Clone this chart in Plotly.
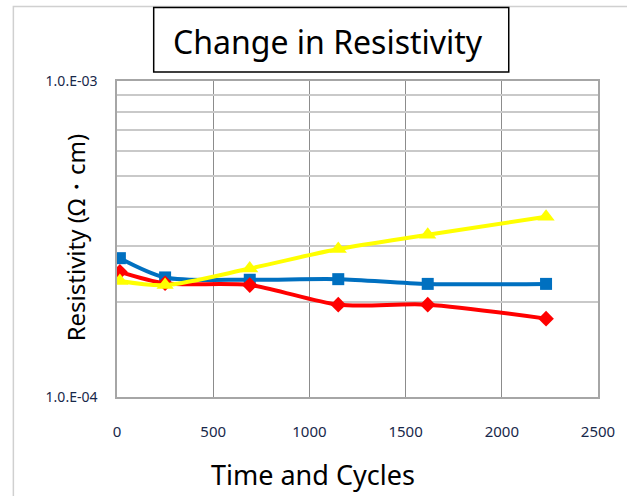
import plotly.graph_objects as go

# ---- data ----
cycles = [15, 250, 690, 1150, 1615, 2230]
blue_vals = [2.75e-4, 2.39e-4, 2.35e-4, 2.36e-4, 2.28e-4, 2.28e-4]
red_vals = [2.49e-4, 2.29e-4, 2.26e-4, 1.96e-4, 1.96e-4, 1.77e-4]
yellow_vals = [2.33e-4, 2.26e-4, 2.55e-4, 2.94e-4, 3.26e-4, 3.72e-4]

y_tickvals = [1e-4, 2e-4, 3e-4, 4e-4, 5e-4, 6e-4, 7e-4, 8e-4, 9e-4, 1e-3]
y_ticktext = ["1.0.E-04", "", "", "", "", "", "", "", "", "1.0.E-03"]
x_tickvals = [0, 500, 1000, 1500, 2000, 2500]

title_text = "Change in Resistivity"
x_title = "Time and Cycles"
y_title = "Resistivity (Ω・cm)"

FONT = "Noto Sans"
TICK_COLOR = "#17284a"

fig = go.Figure()
fig.add_trace(go.Scatter(
    x=cycles, y=blue_vals, mode="lines+markers",
    line=dict(color="#0070C0", width=4, shape="spline", smoothing=0.8),
    marker=dict(symbol="square", size=12, color="#0070C0"),
    hoverinfo="skip"))
fig.add_trace(go.Scatter(
    x=cycles, y=red_vals, mode="lines+markers",
    line=dict(color="#FF0000", width=4, shape="spline", smoothing=0.8),
    marker=dict(symbol="diamond", size=12, color="#FF0000"),
    hoverinfo="skip"))
fig.add_trace(go.Scatter(
    x=cycles, y=yellow_vals, mode="lines+markers",
    line=dict(color="#FFFF00", width=4, shape="spline", smoothing=0.8),
    marker=dict(symbol="triangle-up", size=15, color="#FFFF00"),
    hoverinfo="skip"))

L, R, T, B = 117, 25, 81, 99
W, H = 627, 496
pw, ph = W - L - R, H - T - B

def px(xp):
    return (xp - L) / pw

def py(yp):
    return (H - B - yp) / ph

fig.update_layout(
    width=W, height=H,
    margin=dict(l=L, r=R, t=T, b=B),
    paper_bgcolor="white", plot_bgcolor="white",
    showlegend=False,
    font=dict(family=FONT, color="black"),
    xaxis=dict(
        range=[0, 2500], tickvals=x_tickvals,
        showgrid=True, gridcolor="#8c8c8c", gridwidth=1,
        showline=True, linecolor="#a6a6a6", linewidth=1.5, mirror=True,
        zeroline=False,
        ticks="outside", ticklen=20, tickcolor="rgba(0,0,0,0)",
        tickfont=dict(family=FONT, size=15, color=TICK_COLOR),
    ),
    yaxis=dict(
        type="log", range=[-4, -3],
        tickvals=y_tickvals, ticktext=y_ticktext,
        showgrid=True, gridcolor="#c9c9c9", gridwidth=2,
        showline=True, linecolor="#a6a6a6", linewidth=1.5, mirror=True,
        zeroline=False,
        ticks="outside", ticklen=15, tickcolor="rgba(0,0,0,0)",
        tickfont=dict(family=FONT, size=14, color=TICK_COLOR),
    ),
    shapes=[
        # outer chart border
        dict(type="rect", xref="paper", yref="paper",
             x0=px(12.5), x1=px(640), y0=py(510), y1=py(6.5),
             line=dict(color="#d0d0d0", width=1.5), fillcolor="rgba(0,0,0,0)",
             layer="below"),
        # title box
        dict(type="rect", xref="paper", yref="paper",
             x0=px(154), x1=px(512), y0=py(72), y1=py(7.5),
             line=dict(color="black", width=1.5), fillcolor="white"),
    ],
    annotations=[
        dict(text=title_text, xref="paper", yref="paper",
             x=px(330), y=py(41), showarrow=False,
             xanchor="center", yanchor="middle",
             font=dict(family=FONT, size=32, color="black")),
        dict(text=x_title, xref="paper", yref="paper",
             x=px(315), y=py(474), showarrow=False,
             xanchor="center", yanchor="middle",
             font=dict(family=FONT, size=27, color="black")),
        dict(text=y_title, xref="paper", yref="paper",
             x=px(75), y=py(237), showarrow=False, textangle=-90,
             xanchor="center", yanchor="middle",
             font=dict(family=FONT, size=24, color="black")),
    ],
)

fig.write_html("out.html")
